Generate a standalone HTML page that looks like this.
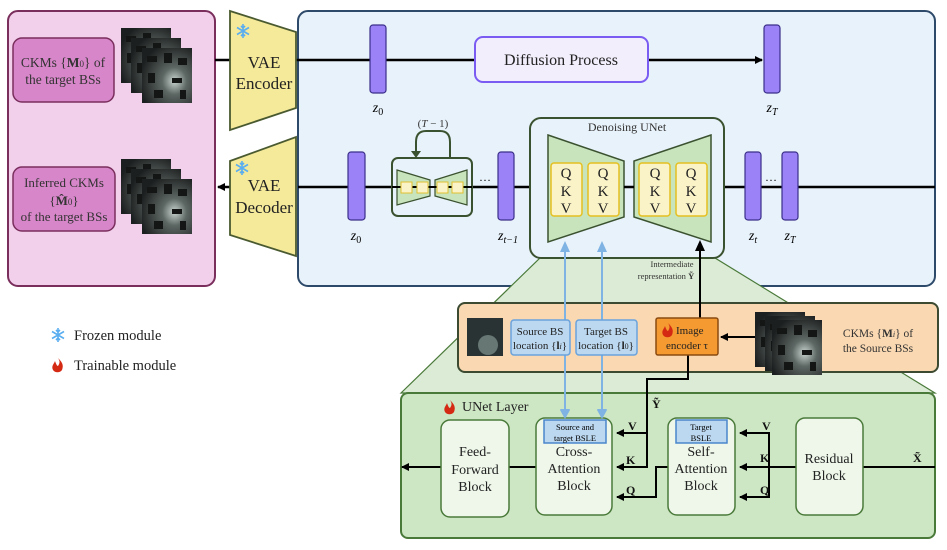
<!DOCTYPE html>
<html><head><meta charset="utf-8"><style>
body{margin:0;background:#fff;}
svg{display:block;font-family:"Liberation Serif",serif;}
</style></head><body>
<svg width="947" height="550" viewBox="0 0 947 550" xmlns="http://www.w3.org/2000/svg">
<defs>
<radialGradient id="mg" cx="0.65" cy="0.6" r="0.7"><stop offset="0" stop-color="#c9d4d0"/><stop offset="0.35" stop-color="#5d6764"/><stop offset="1" stop-color="#1c1f1f"/></radialGradient>
<marker id="ab" markerWidth="8" markerHeight="8" refX="7" refY="4" orient="auto" markerUnits="userSpaceOnUse"><path d="M0,0 L8,4 L0,8 z" fill="#000"/></marker>
<marker id="al" markerWidth="10" markerHeight="10" refX="9" refY="5" orient="auto" markerUnits="userSpaceOnUse"><path d="M0,0 L10,5 L0,10 z" fill="#7fb3e3"/></marker>
<g id="map"><rect width="50" height="55" fill="url(#mg)"/><path d="M5,8h10v6h-10zM22,5h8v10h-8zM36,10h9v7h-9zM6,25h7v10h-7zM30,30h10v5h-10zM12,42h9v8h-9zM38,42h6v9h-6z" fill="#141616"/></g>
<g id="snow" stroke="#5aaef0" stroke-width="1.6" fill="none"><path d="M0,-7V7M-6,-3.5L6,3.5M-6,3.5L6,-3.5M-2,-5L0,-3L2,-5M-2,5L0,3L2,5"/></g>
<g id="fire"><path d="M0,-7 C4,-3 6,0 4,5 C2,8 -3,8 -5,5 C-7,1 -4,-1 -3,-4 C-2,-1 -1,1 0,1 C2,-2 2,-4 0,-7z" fill="#d42a14"/></g>
</defs>

<!-- pink panel -->
<rect x="8" y="11" width="207" height="275" rx="10" fill="#f2d0ec" stroke="#7a2e5c" stroke-width="2"/>
<rect x="13" y="38" width="101" height="64" rx="9" fill="#d786c9" stroke="#7a2e5c" stroke-width="1.5"/>
<text x="63" y="67" font-size="13.5" text-anchor="middle" fill="#333">CKMs {<tspan font-weight="bold">M</tspan><tspan font-size="9">0</tspan>} of</text>
<text x="63" y="84" font-size="13.5" text-anchor="middle" fill="#333">the target BSs</text>
<rect x="13" y="167" width="102" height="64" rx="9" fill="#d786c9" stroke="#7a2e5c" stroke-width="1.5"/>
<text x="64" y="187" font-size="13" text-anchor="middle" fill="#333">Inferred CKMs</text>
<text x="64" y="205" font-size="13" text-anchor="middle" fill="#333">{<tspan font-weight="bold">M̂</tspan><tspan font-size="9">0</tspan>}</text>
<text x="64" y="221" font-size="13" text-anchor="middle" fill="#333">of the target BSs</text>
<use href="#map" x="121" y="28"/><use href="#map" x="131" y="38"/><use href="#map" x="142" y="48"/>
<use href="#map" x="121" y="159"/><use href="#map" x="131" y="169"/><use href="#map" x="142" y="179"/>

<!-- blue panel -->
<rect x="298" y="11" width="637" height="275" rx="10" fill="#e8f2fa" stroke="#2e4a6a" stroke-width="2"/>

<!-- connecting trapezoid -->
<polygon points="540,258 715,258 935,393 401,393" fill="#dcebd5" stroke="#4a7a3a" stroke-width="1.2"/>

<!-- lines -->
<line x1="215" y1="60" x2="230" y2="60" stroke="#000" stroke-width="2.5"/>
<line x1="296" y1="60" x2="762" y2="60" stroke="#000" stroke-width="2.5" marker-end="url(#ab)"/>
<line x1="935" y1="187" x2="298" y2="187" stroke="#000" stroke-width="2.5"/>
<line x1="230" y1="187" x2="218" y2="187" stroke="#000" stroke-width="2.5" marker-end="url(#ab)"/>

<!-- VAE -->
<polygon points="230,11 296,32 296,108 230,130" fill="#f5e99a" stroke="#4a5a30" stroke-width="1.8"/>
<text x="264" y="68" font-size="17" text-anchor="middle" fill="#222">VAE</text>
<text x="264" y="89" font-size="17" text-anchor="middle" fill="#222">Encoder</text>
<polygon points="230,161 296,137 296,256 230,235" fill="#f5e99a" stroke="#4a5a30" stroke-width="1.8"/>
<text x="264" y="191" font-size="17" text-anchor="middle" fill="#222">VAE</text>
<text x="264" y="213" font-size="17" text-anchor="middle" fill="#222">Decoder</text>
<use href="#snow" x="243" y="31"/><use href="#snow" x="242" y="168"/>

<!-- latent bars top -->
<rect x="370" y="25" width="16" height="68" rx="3" fill="#9b82f7" stroke="#3a2f8a" stroke-width="1.2"/>
<text x="378" y="112" font-size="14" font-style="italic" text-anchor="middle">z<tspan font-size="10" font-style="normal" dy="3">0</tspan></text>
<rect x="475" y="37" width="173" height="45" rx="8" fill="#f3eefc" stroke="#7b5cf2" stroke-width="2"/>
<text x="561" y="65" font-size="16" text-anchor="middle" fill="#222">Diffusion Process</text>
<rect x="764" y="25" width="16" height="68" rx="3" fill="#9b82f7" stroke="#3a2f8a" stroke-width="1.2"/>
<text x="772" y="112" font-size="14" font-style="italic" text-anchor="middle">z<tspan font-size="10" dy="3">T</tspan></text>

<!-- bottom row -->
<rect x="348" y="152" width="17" height="68" rx="3" fill="#9b82f7" stroke="#3a2f8a" stroke-width="1.2"/>
<text x="356" y="240" font-size="14" font-style="italic" text-anchor="middle">z<tspan font-size="10" font-style="normal" dy="3">0</tspan></text>
<rect x="392" y="158" width="80" height="58" rx="6" fill="#e8f2fa" stroke="#3b5230" stroke-width="2"/>
<polygon points="397,170 430,180 430,196 397,205" fill="#c8e4bd" stroke="#3b5230" stroke-width="1.2"/>
<polygon points="467,170 435,180 435,196 467,205" fill="#c8e4bd" stroke="#3b5230" stroke-width="1.2"/>
<line x1="392" y1="187" x2="472" y2="187" stroke="#000" stroke-width="2"/>
<rect x="401" y="182" width="11" height="11" fill="#fbf3c8" stroke="#e0c030"/><rect x="417" y="182" width="11" height="11" fill="#fbf3c8" stroke="#e0c030"/>
<rect x="437" y="182" width="11" height="11" fill="#fbf3c8" stroke="#e0c030"/><rect x="452" y="182" width="11" height="11" fill="#fbf3c8" stroke="#e0c030"/>
<path d="M450,158 V142 Q450,131 440,131 H426 Q416,131 416,142 V152" fill="none" stroke="#3b5230" stroke-width="2"/>
<polygon points="411,151 421,151 416,158" fill="#3b5230"/>
<text x="433" y="127" font-size="11" text-anchor="middle" fill="#333">(<tspan font-style="italic">T</tspan> − 1)</text>
<text x="485" y="181" font-size="12" text-anchor="middle">…</text>
<rect x="498" y="152" width="16" height="68" rx="3" fill="#9b82f7" stroke="#3a2f8a" stroke-width="1.2"/>
<text x="508" y="240" font-size="14" font-style="italic" text-anchor="middle">z<tspan font-size="10" dy="3">t−1</tspan></text>

<!-- Denoising UNet -->
<rect x="530" y="118" width="194" height="140" rx="11" fill="#e8f2fa" stroke="#3b5230" stroke-width="2"/>
<text x="627" y="131" font-size="12" text-anchor="middle" fill="#333">Denoising UNet</text>
<polygon points="548,135 624,161 624,217 548,242" fill="#c8e4bd" stroke="#3b5230" stroke-width="1.5"/>
<polygon points="711,135 634,161 634,217 711,242" fill="#c8e4bd" stroke="#3b5230" stroke-width="1.5"/>
<line x1="624" y1="187" x2="634" y2="187" stroke="#000" stroke-width="2.5"/>
<g font-size="15" text-anchor="middle" fill="#222">
<rect x="551" y="163" width="31" height="53" rx="3" fill="#fbf3c8" stroke="#e4c020" stroke-width="1.5"/>
<text x="566" y="178">Q</text><text x="566" y="196">K</text><text x="566" y="213">V</text>
<rect x="588" y="163" width="31" height="53" rx="3" fill="#fbf3c8" stroke="#e4c020" stroke-width="1.5"/>
<text x="603" y="178">Q</text><text x="603" y="196">K</text><text x="603" y="213">V</text>
<rect x="639" y="163" width="31" height="53" rx="3" fill="#fbf3c8" stroke="#e4c020" stroke-width="1.5"/>
<text x="655" y="178">Q</text><text x="655" y="196">K</text><text x="655" y="213">V</text>
<rect x="676" y="163" width="31" height="53" rx="3" fill="#fbf3c8" stroke="#e4c020" stroke-width="1.5"/>
<text x="691" y="178">Q</text><text x="691" y="196">K</text><text x="691" y="213">V</text>
</g>
<rect x="745" y="152" width="16" height="68" rx="3" fill="#9b82f7" stroke="#3a2f8a" stroke-width="1.2"/>
<text x="753" y="240" font-size="14" font-style="italic" text-anchor="middle">z<tspan font-size="10" dy="3">t</tspan></text>
<text x="771" y="181" font-size="12" text-anchor="middle">…</text>
<rect x="782" y="152" width="16" height="68" rx="3" fill="#9b82f7" stroke="#3a2f8a" stroke-width="1.2"/>
<text x="790" y="240" font-size="14" font-style="italic" text-anchor="middle">z<tspan font-size="10" dy="3">T</tspan></text>

<text x="672" y="267" font-size="8.5" text-anchor="middle" fill="#333">Intermediate</text>
<text x="666" y="279" font-size="8.5" text-anchor="middle" fill="#333">representation <tspan font-weight="bold">Ỹ</tspan></text>

<!-- legend -->
<use href="#snow" x="58" y="335"/>
<text x="74" y="340" font-size="14.5" fill="#222">Frozen module</text>
<use href="#fire" x="58" y="365"/>
<text x="74" y="370" font-size="14.5" fill="#222">Trainable module</text>

<!-- orange panel background -->
<rect x="458" y="303" width="480" height="69" rx="7" fill="#f9d8b2" stroke="#3b4a30" stroke-width="2"/>

<!-- UNet layer -->
<rect x="401" y="393" width="534" height="145" rx="7" fill="#cde6c3" stroke="#4a7a3a" stroke-width="2"/>
<use href="#fire" x="450" y="407"/>
<text x="462" y="411" font-size="14" fill="#222">UNet Layer</text>

<!-- blue arrows -->
<line x1="565" y1="250" x2="565" y2="418" stroke="#7fb3e3" stroke-width="2" marker-end="url(#al)"/>
<line x1="602" y1="250" x2="602" y2="418" stroke="#7fb3e3" stroke-width="2" marker-end="url(#al)"/>
<polygon points="560,252 570,252 565,241" fill="#7fb3e3"/>
<polygon points="597,252 607,252 602,241" fill="#7fb3e3"/>

<!-- black connections -->
<g stroke="#000" stroke-width="2" fill="none">
<line x1="700" y1="318" x2="700" y2="249"/>
<path d="M688,355 V379 H647 V467 H617" marker-end="url(#ab)"/>
<path d="M647,433 H617" marker-end="url(#ab)"/>
<path d="M668,467 H656 V497 H617" marker-end="url(#ab)"/>
<line x1="536" y1="467" x2="509" y2="467"/>
<line x1="441" y1="467" x2="402" y2="467" marker-end="url(#ab)"/>
<line x1="935" y1="467" x2="863" y2="467"/>
<line x1="796" y1="467" x2="740" y2="467" marker-end="url(#ab)"/>
<path d="M769,467 V433 H740" marker-end="url(#ab)"/>
<path d="M769,467 V497 H740" marker-end="url(#ab)"/>
<line x1="755" y1="337" x2="721" y2="337" marker-end="url(#ab)"/>
</g>
<polygon points="695,251 705,251 700,240" fill="#000"/>

<!-- orange panel contents -->
<rect x="467" y="318" width="36" height="38" fill="#2a3333"/><circle cx="488" cy="345" r="10" fill="#8fa5a0" opacity="0.6"/>
<rect x="511" y="320" width="59" height="35" rx="3" fill="#bcd8f0" stroke="#6aa2dc" stroke-width="1.5"/>
<text x="540" y="335" font-size="11" text-anchor="middle" fill="#222">Source BS</text>
<text x="540" y="349" font-size="11" text-anchor="middle" fill="#222">location {<tspan font-weight="bold">l</tspan><tspan font-size="8" font-style="italic">i</tspan>}</text>
<rect x="576" y="320" width="61" height="35" rx="3" fill="#bcd8f0" stroke="#6aa2dc" stroke-width="1.5"/>
<text x="606" y="335" font-size="11" text-anchor="middle" fill="#222">Target BS</text>
<text x="606" y="349" font-size="11" text-anchor="middle" fill="#222">location {<tspan font-weight="bold">l</tspan><tspan font-size="8">0</tspan>}</text>
<rect x="656" y="318" width="62" height="37" rx="2" fill="#f59a30" stroke="#8a4a10" stroke-width="1.5"/>
<use href="#fire" x="668" y="330" transform="scale(1)"/>
<text x="676" y="334" font-size="11" fill="#222">Image</text>
<text x="687" y="349" font-size="11" text-anchor="middle" fill="#222">encoder τ</text>
<use href="#map" x="755" y="312"/><use href="#map" x="765" y="316"/><use href="#map" x="772" y="320"/>
<text x="878" y="337" font-size="11.5" text-anchor="middle" fill="#333">CKMs {<tspan font-weight="bold">M</tspan><tspan font-size="8" font-style="italic">i</tspan>} of</text>
<text x="878" y="352" font-size="11.5" text-anchor="middle" fill="#333">the Source BSs</text>

<!-- blocks -->
<g fill="#eef7ea" stroke="#4a7a3a" stroke-width="1.5">
<rect x="441" y="420" width="68" height="97" rx="9"/>
<rect x="536" y="418" width="76" height="97" rx="9"/>
<rect x="668" y="418" width="67" height="97" rx="9"/>
<rect x="796" y="418" width="67" height="97" rx="9"/>
</g>
<g font-size="14" text-anchor="middle" fill="#222">
<text x="475" y="456">Feed-</text><text x="475" y="474">Forward</text><text x="475" y="491">Block</text>
<text x="574" y="456">Cross-</text><text x="574" y="473">Attention</text><text x="574" y="490">Block</text>
<text x="701" y="456">Self-</text><text x="701" y="473">Attention</text><text x="701" y="490">Block</text>
<text x="829" y="463">Residual</text><text x="829" y="480">Block</text>
</g>
<rect x="544" y="420" width="62" height="23" fill="#bcd8f0" stroke="#4a86cc" stroke-width="1.5"/>
<text x="575" y="430" font-size="8.5" text-anchor="middle">Source and</text>
<text x="575" y="441" font-size="8.5" text-anchor="middle">target BSLE</text>
<rect x="676" y="420" width="51" height="23" fill="#bcd8f0" stroke="#4a86cc" stroke-width="1.5"/>
<text x="701" y="430" font-size="8.5" text-anchor="middle">Target</text>
<text x="701" y="441" font-size="8.5" text-anchor="middle">BSLE</text>
<polygon points="560,410 570,410 565,419" fill="#7fb3e3"/>
<polygon points="597,410 607,410 602,419" fill="#7fb3e3"/>

<g font-size="12" font-weight="bold" fill="#111">
<text x="628" y="430">V</text><text x="626" y="464">K</text><text x="626" y="494">Q</text>
<text x="762" y="430">V</text><text x="760" y="462">K</text><text x="760" y="494">Q</text>
<text x="652" y="408">Ỹ</text>
<text x="913" y="462">X̃</text>
</g>
</svg>
</body></html>
